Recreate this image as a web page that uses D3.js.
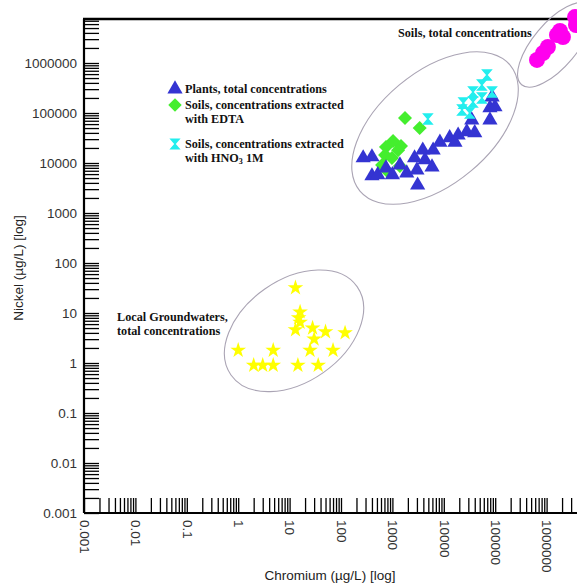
<!DOCTYPE html>
<html>
<head>
<meta charset="utf-8">
<script src="https://cdn.jsdelivr.net/npm/d3@7"></script>
<style>
  body { margin: 0; background: #fff; }
  .tick text { font-family: "Liberation Sans", Arial, sans-serif; font-size: 13.5px; fill: #333; }
  .note { font-family: "Liberation Serif", "Times New Roman", serif; font-weight: bold; font-size: 12.2px; fill: #111; }
  .title { font-family: "Liberation Sans", Arial, sans-serif; font-size: 13.5px; fill: #222; }
</style>
</head>
<body>
<div id="chart"></div>
<script>
// Data (µg/L)
const plantsCr = [270, 400, 400, 520, 750, 1000, 1400, 1900, 2700, 3000, 3100, 3900, 4300, 5900, 6200, 8400, 13000, 16500, 19000, 28000, 35000, 40000, 79000, 79000, 99000, 87000];
const plantsNi = [12600, 13200, 5500, 5800, 7900, 5800, 9100, 6300, 12600, 7200, 3600, 18000, 11500, 8300, 18000, 26000, 32000, 26000, 36000, 42000, 72000, 40000, 72000, 126000, 132000, 209000];

const edtaCr = [1760, 3400, 1030, 750, 1470, 720, 980, 1290, 630, 1400, 790];
const edtaNi = [79000, 50000, 27500, 21000, 22000, 14500, 12600, 18000, 9100, 8700, 6900];

const hno3Cr = [4900, 69000, 55000, 87000, 37000, 24000, 37000, 55000, 32000, 22600];
const hno3Ni = [76000, 575000, 363000, 263000, 263000, 158000, 166000, 200000, 100000, 115000];

const soilCr = [650000, 850000, 1060000, 1590000, 2080000, 1820000, 3570000, 3730000];
const soilNi = [1150000, 1580000, 2090000, 3630000, 3310000, 4370000, 8300000, 5750000];

const waterCr = [13, 16, 15, 16, 13, 28, 50, 30, 120, 1, 4.8, 25, 70, 2, 3, 4.8, 14.5, 36];
const waterNi = [32, 10.5, 8, 6.5, 4.6, 5, 4.2, 3, 4, 1.8, 1.8, 1.8, 1.8, 0.9, 0.9, 0.9, 0.9, 0.9];

const decades = [-3, -2, -1, 0, 1, 2, 3, 4, 5, 6];

const legendLabels = [
  ["Plants, total concentrations"],
  ["Soils, concentrations extracted", "with EDTA"],
  ["Soils, concentrations extracted", "with HNO\u2083 1M"]
];

// Canvas
const W = 577, H = 587;
const plotLeft = 84, plotTop = 19, plotBottom = 513;

const svg = d3.select("#chart").append("svg")
  .attr("width", W)
  .attr("height", H);

// Scales (log, ~51 px per decade across, 50 px per decade up)
const x = d3.scaleLog().domain([1e-3, 1e7]).range([plotLeft, plotLeft + 514]);
const y = d3.scaleLog().domain([1e-3, 1e7]).range([plotBottom, plotBottom - 500]);

// tick values: 1..9 x 10^k
const ticks = [];
decades.forEach(k => {
  for (let m = 1; m <= 9; m++) ticks.push(Number(m + "e" + k));
});
const isMajor = d => Math.abs(Math.log10(d) - Math.round(Math.log10(d))) < 1e-9;
const fmt = d => isMajor(d) ? String(d) : "";

// Y axis
svg.append("g")
  .attr("class", "y axis")
  .attr("transform", "translate(" + plotLeft + ",0)")
  .call(d3.axisLeft(y)
    .tickValues(ticks.filter(d => y(d) >= plotTop))
    .tickSizeInner(-15)
    .tickSizeOuter(0)
    .tickPadding(7)
    .tickFormat(fmt))
  .call(g => g.select(".domain").attr("stroke-width", 2.2).attr("d", "M0," + plotBottom + "V" + plotTop))
  .call(g => g.selectAll(".tick line").attr("stroke-width", 1.3));

// X axis
svg.append("g")
  .attr("class", "x axis")
  .attr("transform", "translate(0," + plotBottom + ")")
  .call(d3.axisBottom(x)
    .tickValues(ticks.filter(d => x(d) <= W))
    .tickSizeInner(-15)
    .tickSizeOuter(0)
    .tickFormat(fmt))
  .call(g => g.select(".domain").attr("stroke-width", 2.2).attr("d", "M" + plotLeft + ",0H" + W))
  .call(g => g.selectAll(".tick line").attr("stroke-width", 1.3))
  .call(g => g.selectAll(".tick text")
    .attr("transform", "rotate(90)")
    .attr("x", 7)
    .attr("y", 0)
    .attr("dy", "0.35em")
    .style("text-anchor", "start"));

// top frame line
svg.append("line")
  .attr("x1", plotLeft - 1).attr("x2", W)
  .attr("y1", plotTop).attr("y2", plotTop)
  .attr("stroke", "#000")
  .attr("stroke-width", 2.5);

// Axis titles
svg.append("text")
  .attr("class", "title")
  .attr("x", 330).attr("y", 580)
  .attr("text-anchor", "middle")
  .text("Chromium (\u00b5g/L) [log]");

svg.append("text")
  .attr("class", "title")
  .attr("transform", "translate(23,268) rotate(-90)")
  .attr("text-anchor", "middle")
  .text("Nickel (\u00b5g/L) [log]");

// Cluster ellipses
const clusters = [
  {cr: 12.2, ni: 4.4, rx: 77, ry: 51, angle: -35},
  {cr: 6750, ni: 50000, rx: 98, ry: 56, angle: -40},
  {cr: 1.46e6, ni: 2.3e6, rx: 52, ry: 22, angle: -50}
];
svg.selectAll(".cluster")
  .data(clusters)
  .join("ellipse")
  .attr("class", "cluster")
  .attr("transform", d => "translate(" + x(d.cr) + "," + y(d.ni) + ") rotate(" + d.angle + ")")
  .attr("rx", d => d.rx)
  .attr("ry", d => d.ry)
  .attr("fill", "none")
  .attr("stroke", "#aaa4b4")
  .attr("stroke-width", 1.1);

// Markers
const hourglass = {
  draw(ctx, size) {
    const r = Math.sqrt(size) / 2;
    ctx.moveTo(-r, -r);
    ctx.lineTo(r, -r);
    ctx.lineTo(r * 0.15, 0);
    ctx.lineTo(r, r);
    ctx.lineTo(-r, r);
    ctx.lineTo(-r * 0.15, 0);
    ctx.closePath();
  }
};

function drawSeries(cls, xs, ys, type, size, color) {
  svg.selectAll("." + cls)
    .data(xs.map((d, i) => [d, ys[i]]))
    .join("path")
    .attr("class", cls)
    .attr("transform", d => "translate(" + x(d[0]) + "," + y(d[1]) + ")")
    .attr("d", d3.symbol().type(type).size(size))
    .attr("fill", color);
}

drawSeries("water", waterCr, waterNi, d3.symbolStar, 76, "#ffff00");
drawSeries("edta", edtaCr, edtaNi, d3.symbolDiamond2, 125, "#44ee2e");
drawSeries("plants", plantsCr, plantsNi, d3.symbolTriangle, 100, "#3434d2");
drawSeries("hno3", hno3Cr, hno3Ni, hourglass, 135, "#22eeee");
drawSeries("soil", soilCr, soilNi, d3.symbolCircle, 200, "#ff00ee");

// Legend
const legendSym = [
  {type: d3.symbolTriangle, size: 100, color: "#3434d2", y: 89},
  {type: d3.symbolDiamond2, size: 115, color: "#44ee2e", y: 105},
  {type: hourglass, size: 125, color: "#22eeee", y: 144}
];
const legend = svg.selectAll(".legend")
  .data(legendSym)
  .join("g")
  .attr("class", "legend")
  .attr("transform", d => "translate(175," + d.y + ")");

legend.append("path")
  .attr("d", d => d3.symbol().type(d.type).size(d.size)())
  .attr("fill", d => d.color);

// text lines, with the subscript drawn small
legend.each(function(d, i) {
  const t = d3.select(this).append("text").attr("class", "note").attr("y", 4);
  legendLabels[i].forEach((line, j) => {
    const parts = line.split("\u2083");
    t.append("tspan").attr("x", 10).attr("y", 4 + j * 14).text(parts[0]);
    if (parts.length > 1) {
      t.append("tspan").attr("dy", 2).style("font-size", "8px").text("3");
      t.append("tspan").attr("dy", -2).text(parts[1]);
    }
  });
});

// Cluster labels
svg.append("text")
  .attr("class", "note")
  .attr("x", 398).attr("y", 37)
  .text("Soils, total concentrations");

svg.append("text")
  .attr("class", "note")
  .attr("x", 117).attr("y", 321)
  .selectAll("tspan")
  .data(["Local Groundwaters,", "total concentrations"])
  .join("tspan")
  .attr("x", 117)
  .attr("dy", (d, i) => i === 0 ? 0 : 14)
  .text(d => d);
</script>
</body>
</html>
